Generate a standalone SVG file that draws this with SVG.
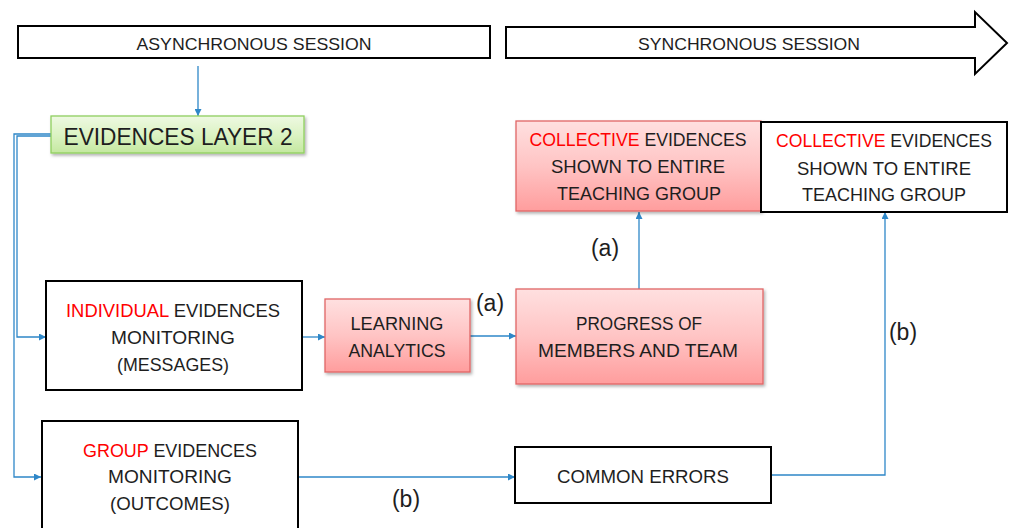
<svg xmlns="http://www.w3.org/2000/svg" width="1011" height="528" viewBox="0 0 1011 528">
  <style>
    text { font-family: "Liberation Sans", Arial, sans-serif; fill: #1e1e1e; text-anchor: middle; }
    .body { font-size: 19px; }
    .head { font-size: 17px; }
    .label { font-size: 23px; }
    .red { fill: #ff0000; }
    .plain { fill: #ffffff; stroke: #000000; stroke-width: 2; }
    .pink { fill: url(#pinkGrad); stroke: #e06666; stroke-width: 1.3; filter: url(#shadow); }
    .conn { fill: none; stroke: #2e87c8; stroke-width: 1.3; }
  </style>
  <defs>
    <linearGradient id="pinkGrad" x1="0" y1="0" x2="0" y2="1">
      <stop offset="0" stop-color="#ffe0e0"/>
      <stop offset="0.5" stop-color="#ffc4c4"/>
      <stop offset="1" stop-color="#ff9d9d"/>
    </linearGradient>
    <linearGradient id="greenGrad" x1="0" y1="0" x2="0" y2="1">
      <stop offset="0" stop-color="#eef9e2"/>
      <stop offset="0.5" stop-color="#dcf3c4"/>
      <stop offset="1" stop-color="#c4e8a0"/>
    </linearGradient>
    <filter id="shadow" x="-10%" y="-10%" width="120%" height="130%">
      <feDropShadow dx="1.5" dy="2" stdDeviation="1.5" flood-color="#000000" flood-opacity="0.3"/>
    </filter>
    <marker id="arrow" viewBox="0 0 10 10" refX="10" refY="5" markerWidth="7" markerHeight="7" markerUnits="userSpaceOnUse" orient="auto">
      <path d="M0,0 L10,5 L0,10 z" fill="#2e87c8"/>
    </marker>
  </defs>

  <!-- session headers -->
  <g id="async-session">
    <rect x="18" y="26" width="472" height="32" class="plain"/>
    <text x="254" y="50" class="head" textLength="235" lengthAdjust="spacingAndGlyphs">ASYNCHRONOUS SESSION</text>
  </g>
  <g id="sync-session">
    <polygon points="506,27 975,27 975,12 1007,43 975,74 975,58 506,58" class="plain"/>
    <text x="749" y="50" class="head" textLength="222" lengthAdjust="spacingAndGlyphs">SYNCHRONOUS SESSION</text>
  </g>

  <!-- connectors -->
  <g id="connectors">
    <path d="M198,66 V116" class="conn" marker-end="url(#arrow)"/>
    <path d="M51,134 H14 V477 H41" class="conn" marker-end="url(#arrow)"/>
    <path d="M51,136 H17 V337 H46" class="conn" marker-end="url(#arrow)"/>
    <path d="M302,337 H325" class="conn" marker-end="url(#arrow)"/>
    <path d="M470,336 H516" class="conn" marker-end="url(#arrow)"/>
    <path d="M639,289 V212" class="conn" marker-end="url(#arrow)"/>
    <path d="M298,477 H515" class="conn" marker-end="url(#arrow)"/>
    <path d="M771,475 H885 V212" class="conn" marker-end="url(#arrow)"/>
    <text x="490" y="311" class="label">(a)</text>
    <text x="605" y="256" class="label">(a)</text>
    <text x="406" y="507" class="label">(b)</text>
    <text x="903" y="340" class="label">(b)</text>
  </g>

  <g id="evidences-layer-2">
    <rect x="51" y="116" width="253" height="37" fill="url(#greenGrad)" stroke="#8fcf5f" stroke-width="1.3" filter="url(#shadow)"/>
    <text x="178" y="145" font-size="24" textLength="229" lengthAdjust="spacingAndGlyphs">EVIDENCES LAYER 2</text>
  </g>

  <g id="individual-monitoring">
    <rect x="46" y="281" width="256" height="109" class="plain"/>
    <text x="173" y="317" class="body" textLength="214" lengthAdjust="spacingAndGlyphs"><tspan class="red">INDIVIDUAL</tspan> EVIDENCES</text>
    <text x="173" y="344" class="body" textLength="124" lengthAdjust="spacingAndGlyphs">MONITORING</text>
    <text x="173" y="371" class="body" textLength="112" lengthAdjust="spacingAndGlyphs">(MESSAGES)</text>
  </g>

  <g id="learning-analytics">
    <rect x="325" y="299" width="145" height="73" class="pink"/>
    <text x="397" y="330" class="body" textLength="93" lengthAdjust="spacingAndGlyphs">LEARNING</text>
    <text x="397" y="357" class="body" textLength="97" lengthAdjust="spacingAndGlyphs">ANALYTICS</text>
  </g>

  <g id="progress">
    <rect x="516" y="289" width="247" height="95" class="pink"/>
    <text x="639" y="330" class="body" textLength="126" lengthAdjust="spacingAndGlyphs">PROGRESS OF</text>
    <text x="638" y="357" class="body" textLength="200" lengthAdjust="spacingAndGlyphs">MEMBERS AND TEAM</text>
  </g>

  <g id="collective-a">
    <rect x="516" y="121" width="245" height="90" class="pink"/>
    <text x="638" y="146" class="body" textLength="217" lengthAdjust="spacingAndGlyphs"><tspan class="red">COLLECTIVE</tspan> EVIDENCES</text>
    <text x="638" y="173" class="body" textLength="174" lengthAdjust="spacingAndGlyphs">SHOWN TO ENTIRE</text>
    <text x="639" y="200" class="body" textLength="164" lengthAdjust="spacingAndGlyphs">TEACHING GROUP</text>
  </g>

  <g id="collective-b">
    <rect x="761" y="122" width="246" height="90" class="plain"/>
    <text x="884" y="147" class="body" textLength="216" lengthAdjust="spacingAndGlyphs"><tspan class="red">COLLECTIVE</tspan> EVIDENCES</text>
    <text x="884" y="175" class="body" textLength="174" lengthAdjust="spacingAndGlyphs">SHOWN TO ENTIRE</text>
    <text x="884" y="201" class="body" textLength="164" lengthAdjust="spacingAndGlyphs">TEACHING GROUP</text>
  </g>

  <g id="group-monitoring">
    <rect x="42" y="421" width="256" height="120" class="plain"/>
    <text x="170" y="457" class="body" textLength="174" lengthAdjust="spacingAndGlyphs"><tspan class="red">GROUP</tspan> EVIDENCES</text>
    <text x="170" y="483" class="body" textLength="124" lengthAdjust="spacingAndGlyphs">MONITORING</text>
    <text x="170" y="510" class="body" textLength="120" lengthAdjust="spacingAndGlyphs">(OUTCOMES)</text>
  </g>

  <g id="common-errors">
    <rect x="515" y="447" width="256" height="56" class="plain"/>
    <text x="643" y="483" class="body" textLength="172" lengthAdjust="spacingAndGlyphs">COMMON ERRORS</text>
  </g>
</svg>
